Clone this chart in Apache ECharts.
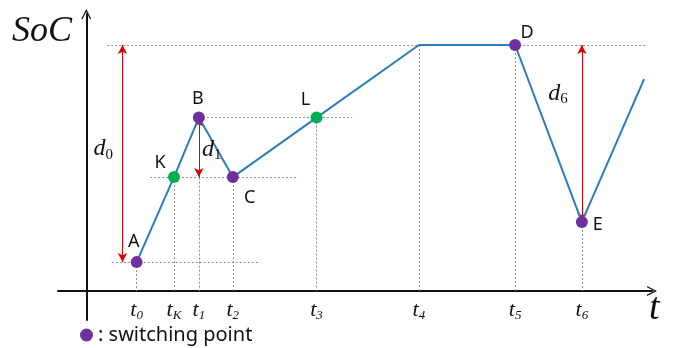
<!DOCTYPE html>
<html>
<head>
<meta charset="utf-8">
<script src="https://cdn.jsdelivr.net/npm/echarts@6/dist/echarts.min.js"></script>
<style>
  html, body { margin: 0; padding: 0; background: #fff; }
  #chart { width: 677px; height: 348px; }
</style>
</head>
<body>
<div id="chart"></div>
<script>
// time ticks on the t axis
var tickNames = ['0', 'K', '1', '2', '3', '4', '5', '6'];
var tickTimes = [8.9, 15.5, 19.9, 25.9, 40.7, 58.8, 75.8, 87.6];

// SoC curve
var curveT   = [8.9, 15.5, 19.9, 25.9, 40.7, 58.8, 75.8, 87.6, 98.6];
var curveSoC = [10.4, 41.1, 62.6, 41.1, 62.6, 88.8, 88.8, 24.9, 76.5];
var curveNames = ['A', 'K', 'B', 'C', 'L', '', 'D', 'E', ''];

var switchNames = ['A', 'B', 'C', 'D', 'E'];
var otherNames = ['K', 'L'];

// d annotations: [time of arrow, from SoC, to SoC]
var dNames = ['0', '1', '6'];
var dArrows = [[6.4, 88.8, 10.4], [19.9, 62.6, 41.1], [87.6, 88.8, 24.9]];
var dLabelAt = [[3.0, 51.2], [22.2, 50.9], [83.4, 71.4]];

// label offsets (pixels) around each named point
var labelOffset = {
    A: [-3, -20], K: [-14, -14], B: [-1, -19], C: [17, 21],
    L: [-11, -18], D: [12, -12], E: [16, 3]
};

var chart = echarts.init(document.getElementById('chart'));

var chevron = 'path://M0,12 L6,0 L12,12 L10.4,12 L6,3.2 L1.6,12 Z';
var guideColor = '#8c8c8c';

function pointData(names) {
    return names.map(function (n) {
        var i = curveNames.indexOf(n);
        return {
            name: n,
            value: [curveT[i], curveSoC[i]],
            label: { offset: labelOffset[n] }
        };
    });
}

function at(i) { return [curveT[i], curveSoC[i]]; }

// dotted guide lines
var guides = [];
// horizontal
guides.push([{ coord: [3.7, curveSoC[5]] }, { coord: [98.8, curveSoC[5]] }]);
guides.push([{ coord: [4.5, curveSoC[0]] }, { coord: [30.7, curveSoC[0]] }]);
guides.push([{ coord: [11.3, curveSoC[1]] }, { coord: [37.4, curveSoC[1]] }]);
guides.push([{ coord: at(2) }, { coord: [47.0, curveSoC[2]] }]);
// vertical, from each point down to the t axis
[0, 1, 2, 3, 4, 5, 6, 7].forEach(function (i) {
    guides.push([{ coord: at(i) }, { coord: [curveT[i], 0] }]);
});

var arrows = dArrows.map(function (a) {
    return [
        { coord: [a[0], a[1]], symbol: 'arrow', lineStyle: { color: '#e00000', type: 'solid', width: 1 } },
        { coord: [a[0], a[2]], symbol: 'arrow' }
    ];
});

var dLabels = dNames.map(function (n, i) {
    return { coord: dLabelAt[i], value: n };
});

var option = {
    animation: false,
    grid: { left: 58, right: 25, top: 14, bottom: 28 },
    legend: {
        data: ['switching point'],
        left: 80,
        top: 325,
        padding: 0,
        itemWidth: 13,
        itemHeight: 13,
        itemGap: 5,
        icon: 'circle',
        formatter: ': {name}',
        itemStyle: { opacity: 1 },
        textStyle: { fontSize: 20, color: '#111', fontFamily: 'Noto Sans' }
    },
    xAxis: {
        type: 'value',
        min: -5,
        max: 100,
        splitLine: { show: false },
        axisTick: { show: false },
        axisLine: {
            onZero: true,
            symbol: ['none', chevron],
            symbolSize: [11, 10],
            lineStyle: { color: '#111', width: 2 }
        },
        axisLabel: {
            customValues: tickTimes,
            // labels are laid out from the grid bottom, pull them up under the t axis
            margin: -22,
            formatter: function (v) {
                var best = 0;
                for (var i = 1; i < tickTimes.length; i++) {
                    if (Math.abs(tickTimes[i] - v) < Math.abs(tickTimes[best] - v)) best = i;
                }
                return '{t|t}{s|' + tickNames[best] + '}';
            },
            rich: {
                t: { fontFamily: 'Liberation Serif', fontStyle: 'italic', fontSize: 22, color: '#111', lineHeight: 24 },
                s: { fontFamily: 'Liberation Serif', fontStyle: 'italic', fontSize: 13, color: '#111', verticalAlign: 'bottom', lineHeight: 13 }
            }
        }
    },
    yAxis: {
        type: 'value',
        min: -10.5,
        max: 100,
        splitLine: { show: false },
        axisTick: { show: false },
        axisLabel: { show: false },
        axisLine: {
            onZero: true,
            symbol: ['none', chevron],
            symbolSize: [11, 10],
            lineStyle: { color: '#111', width: 2 }
        }
    },
    graphic: [
        {
            type: 'text', left: 12, top: 14,
            style: { text: 'SoC', font: 'italic 36px "Liberation Serif"', fill: '#111' }
        },
        {
            type: 'text', left: 649, top: 290,
            style: { text: 't', font: 'italic 38px "Liberation Serif"', fill: '#111' }
        }
    ],
    series: [
        {
            name: 'SoC',
            type: 'line',
            data: curveT.map(function (t, i) { return [t, curveSoC[i]]; }),
            showSymbol: false,
            lineStyle: { color: '#2e7bc0', width: 2 },
            z: 3,
            markLine: {
                silent: true,
                symbol: 'none',
                symbolSize: [7, 9],
                label: { show: false },
                lineStyle: { color: guideColor, type: [2, 2], width: 1 },
                z: 1,
                data: guides.concat(arrows)
            },
            markPoint: {
                symbol: 'circle',
                symbolSize: 0,
                silent: true,
                label: {
                    show: true,
                    formatter: function (p) { return '{d|d}{s|' + p.value + '}'; },
                    rich: {
                        d: { fontFamily: 'Liberation Serif', fontStyle: 'italic', fontSize: 24, color: '#111', lineHeight: 26 },
                        s: { fontFamily: 'Liberation Serif', fontSize: 15, color: '#111', verticalAlign: 'bottom', lineHeight: 16 }
                    }
                },
                data: dLabels
            }
        },
        {
            name: 'switching point',
            type: 'scatter',
            data: pointData(switchNames),
            symbolSize: 12,
            itemStyle: { color: '#7030a0', opacity: 1 },
            z: 5,
            label: {
                show: true, position: 'inside', formatter: '{b}',
                fontSize: 18, color: '#111', fontFamily: 'Noto Sans'
            }
        },
        {
            name: 'other point',
            type: 'scatter',
            data: pointData(otherNames),
            symbolSize: 12,
            itemStyle: { color: '#00b050', opacity: 1 },
            z: 5,
            label: {
                show: true, position: 'inside', formatter: '{b}',
                fontSize: 18, color: '#111', fontFamily: 'Noto Sans'
            }
        }
    ]
};

chart.setOption(option);
window.addEventListener('resize', function () {
    chart.resize();
});
</script>
</body>
</html>
